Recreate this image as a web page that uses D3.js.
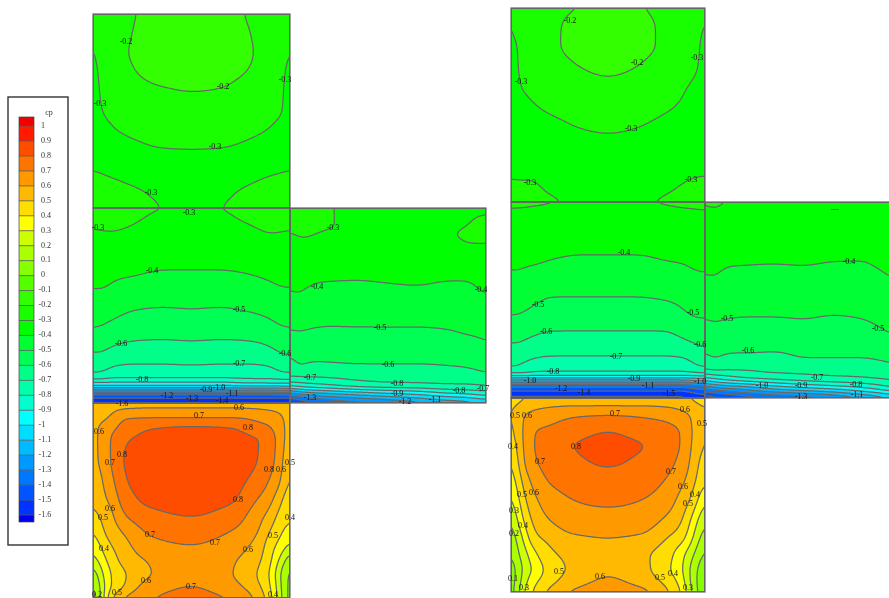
<!DOCTYPE html>
<html><head><meta charset="utf-8">
<script src="https://cdn.jsdelivr.net/npm/d3@7"></script>
<style>html,body{margin:0;padding:0;background:#fff;overflow:hidden}svg{display:block;filter:blur(.45px)}text{font-family:"Liberation Serif",serif}</style>
</head><body><svg id="c" width="889" height="598"></svg>
<script>
// contour levels and legend
const levels=[1,.9,.8,.7,.6,.5,.4,.3,.2,.1,0,-.1,-.2,-.3,-.4,-.5,-.6,-.7,-.8,-.9,-1,-1.1,-1.2,-1.3,-1.4,-1.5,-1.6];
const levelLabels=["1","0.9","0.8","0.7","0.6","0.5","0.4","0.3","0.2","0.1","0","-0.1","-0.2","-0.3","-0.4","-0.5","-0.6","-0.7","-0.8","-0.9","-1","-1.1","-1.2","-1.3","-1.4","-1.5","-1.6"];
const bandColors=["#f00000","#ff1a00","#ff4d00","#ff7300","#ff9900","#ffb900","#ffdd00","#ffff00","#ccff00","#aaff00","#88ff00","#55ff00","#33ff00","#1aff00","#00ff00","#00ff33","#00ff55","#00ff88","#00ffaa","#00ffcc","#00ffff","#00ddff","#00bbff","#0099ff","#0077ff","#0055ff","#0033ff","#0000ee"];

// sample coordinates (surface x 0..1, surface y in grid units from the top of each face)
const sideX=[0,.04,.1,.2,.35,.5,.65,.8,.9,.96,1];
const topY=[0,19.4,38.8,58.2,77.6,97,116.4,135.8,155.2,174.6,194];
const leftMidY=[0,17,37,62,82,101,117,133,145,156,167,177,184,190,195];
const leftArmY=[0,17,27,37,62,82,101,117,133,145,156,167,177,184,190,195];
const leftLowX=[0,.025,.056,.1,.16,.29,.5,.71,.84,.9,.95,.98,1];
const leftLowY=[0,5,15,23,37,57,77,97,112,127,142,157,172,183,195];
const rightMidY=[0,13,33,53,73,95,113,129,143,154,164,170,176,181,188,196];
const rightArmY=[0,8,33,53,73,95,115,129,143,156,166,176,183,190,196];
const rightLowX=[0,.026,.062,.113,.19,.32,.5,.675,.804,.88,.93,.966,1];
const rightLowY=[0,7,17,35,47,64,82,102,122,140,157,172,182,194];

// cp values. Top faces: one list per row. Others: one list per column.
const leftTopRows=[
[-.27,-.25,-.225,-.205,-.17,-.15,-.17,-.21,-.24,-.27,-.29],
[-.295,-.26,-.225,-.2,-.165,-.15,-.165,-.2,-.235,-.27,-.295],
[-.315,-.275,-.225,-.195,-.165,-.155,-.165,-.195,-.235,-.275,-.31],
[-.33,-.285,-.24,-.205,-.175,-.17,-.18,-.205,-.24,-.285,-.33],
[-.34,-.29,-.26,-.235,-.21,-.2,-.205,-.235,-.26,-.29,-.34],
[-.345,-.3,-.28,-.26,-.24,-.235,-.24,-.26,-.275,-.295,-.34],
[-.35,-.33,-.305,-.285,-.27,-.265,-.27,-.285,-.305,-.33,-.35],
[-.34,-.34,-.335,-.315,-.303,-.301,-.303,-.315,-.335,-.34,-.33],
[-.3,-.305,-.31,-.315,-.32,-.325,-.32,-.315,-.31,-.305,-.3],
[-.28,-.285,-.29,-.297,-.31,-.325,-.31,-.295,-.285,-.28,-.28],
[-.27,-.275,-.28,-.285,-.3,-.32,-.3,-.285,-.28,-.275,-.27]];
const leftMidColumns=[
[-.26,-.295,-.33,-.37,-.405,-.45,-.49,-.555,-.605,-.655,-.72,-.98,-1.3,-1.5,-1.64],
[-.265,-.29,-.325,-.37,-.4,-.45,-.495,-.56,-.6,-.655,-.72,-.98,-1.3,-1.5,-1.64],
[-.27,-.29,-.325,-.38,-.415,-.465,-.52,-.58,-.63,-.69,-.76,-.98,-1.3,-1.5,-1.64],
[-.28,-.3,-.335,-.385,-.435,-.495,-.545,-.6,-.65,-.7,-.76,-.98,-1.3,-1.5,-1.64],
[-.3,-.32,-.35,-.4,-.45,-.505,-.555,-.605,-.65,-.7,-.76,-.98,-1.3,-1.5,-1.64],
[-.31,-.32,-.36,-.4,-.455,-.5,-.55,-.6,-.65,-.695,-.76,-.98,-1.3,-1.5,-1.64],
[-.3,-.315,-.35,-.4,-.45,-.505,-.555,-.605,-.65,-.7,-.76,-.98,-1.3,-1.5,-1.64],
[-.28,-.3,-.345,-.39,-.44,-.49,-.545,-.6,-.65,-.7,-.75,-.95,-1.3,-1.5,-1.64],
[-.27,-.285,-.325,-.375,-.42,-.47,-.52,-.58,-.625,-.69,-.75,-.95,-1.3,-1.5,-1.64],
[-.26,-.285,-.33,-.37,-.405,-.45,-.495,-.56,-.595,-.655,-.72,-.95,-1.28,-1.5,-1.64],
[-.26,-.29,-.335,-.37,-.405,-.445,-.49,-.55,-.59,-.65,-.72,-.95,-1.28,-1.5,-1.64]];
const leftArmColumns=[
[-.29,-.295,-.31,-.33,-.37,-.405,-.445,-.49,-.55,-.6,-.65,-.69,-.88,-1.18,-1.42,-1.55],
[-.27,-.28,-.295,-.31,-.36,-.39,-.43,-.475,-.53,-.565,-.585,-.68,-.85,-1.12,-1.36,-1.5],
[-.28,-.29,-.298,-.315,-.37,-.41,-.455,-.49,-.54,-.57,-.61,-.68,-.83,-1.08,-1.3,-1.45],
[-.295,-.295,-.31,-.325,-.375,-.42,-.465,-.497,-.54,-.58,-.605,-.675,-.8,-1.05,-1.25,-1.4],
[-.32,-.325,-.33,-.34,-.38,-.42,-.46,-.495,-.54,-.575,-.6,-.66,-.75,-1,-1.2,-1.35],
[-.32,-.325,-.335,-.345,-.375,-.415,-.46,-.495,-.535,-.57,-.6,-.65,-.73,-.96,-1.15,-1.32],
[-.32,-.325,-.33,-.34,-.37,-.41,-.455,-.495,-.535,-.57,-.6,-.65,-.72,-.93,-1.1,-1.25],
[-.31,-.31,-.31,-.33,-.375,-.42,-.455,-.49,-.53,-.565,-.595,-.64,-.71,-.87,-1.04,-1.18],
[-.31,-.302,-.29,-.305,-.38,-.415,-.45,-.48,-.515,-.555,-.59,-.625,-.71,-.85,-1.02,-1.16],
[-.31,-.29,-.28,-.305,-.385,-.4,-.44,-.475,-.51,-.545,-.585,-.615,-.7,-.83,-.98,-1.12],
[-.31,-.285,-.28,-.305,-.39,-.395,-.43,-.465,-.497,-.535,-.57,-.61,-.69,-.82,-.96,-1.12]];
const leftLowColumns=[
[.49,.5,.54,.56,.56,.55,.53,.505,.445,.39,.33,.24,.09,.05,.02],
[.5,.52,.585,.6,.6,.6,.56,.545,.505,.44,.37,.3,.21,.15,.11],
[.5,.53,.58,.62,.645,.64,.615,.58,.53,.51,.45,.38,.32,.3,.32],
[.52,.57,.63,.67,.72,.72,.685,.635,.59,.56,.51,.46,.42,.42,.52],
[.53,.59,.7,.73,.79,.81,.795,.755,.7,.62,.57,.54,.49,.5,.62],
[.55,.6,.7,.79,.825,.85,.84,.82,.775,.72,.67,.61,.595,.65,.7],
[.55,.6,.7,.805,.85,.875,.87,.84,.805,.75,.7,.66,.67,.7,.73],
[.55,.6,.7,.795,.83,.84,.83,.81,.755,.7,.65,.61,.6,.63,.7],
[.54,.59,.68,.72,.805,.8,.765,.69,.635,.605,.56,.52,.49,.515,.57],
[.53,.58,.66,.7,.745,.735,.69,.63,.57,.5,.44,.42,.395,.41,.44],
[.52,.57,.62,.64,.66,.65,.62,.52,.46,.42,.37,.28,.2,.22,.24],
[.51,.56,.58,.58,.57,.54,.51,.46,.44,.39,.32,.19,.11,.1,.1],
[.5,.53,.55,.55,.53,.505,.47,.43,.405,.34,.25,.1,.05,.04,.03]];
const rightTopRows=[
[-.295,-.27,-.245,-.22,-.2,-.17,-.195,-.22,-.25,-.27,-.295],
[-.315,-.27,-.24,-.215,-.18,-.165,-.18,-.215,-.25,-.285,-.31],
[-.325,-.295,-.25,-.215,-.18,-.165,-.18,-.215,-.25,-.29,-.325],
[-.335,-.295,-.265,-.235,-.2,-.185,-.2,-.235,-.26,-.295,-.335],
[-.34,-.305,-.275,-.25,-.225,-.215,-.225,-.25,-.295,-.32,-.345],
[-.345,-.335,-.31,-.28,-.255,-.25,-.255,-.285,-.315,-.335,-.345],
[-.35,-.345,-.335,-.32,-.295,-.285,-.295,-.32,-.335,-.345,-.35],
[-.34,-.34,-.34,-.335,-.32,-.315,-.32,-.335,-.34,-.34,-.335],
[-.32,-.33,-.33,-.335,-.335,-.33,-.335,-.335,-.33,-.325,-.32],
[-.295,-.295,-.295,-.315,-.33,-.335,-.33,-.315,-.298,-.29,-.29],
[-.275,-.275,-.28,-.29,-.31,-.325,-.31,-.29,-.28,-.275,-.28]];
const rightMidColumns=[
[-.28,-.32,-.355,-.38,-.41,-.455,-.5,-.55,-.61,-.65,-.695,-.78,-1,-1.25,-1.48,-1.64],
[-.28,-.32,-.355,-.38,-.405,-.45,-.5,-.56,-.605,-.65,-.7,-.76,-1,-1.25,-1.48,-1.64],
[-.285,-.325,-.36,-.375,-.425,-.47,-.525,-.58,-.63,-.68,-.75,-.79,-1,-1.25,-1.48,-1.64],
[-.295,-.33,-.365,-.39,-.44,-.5,-.55,-.6,-.64,-.7,-.76,-.8,-1,-1.25,-1.48,-1.64],
[-.31,-.335,-.37,-.4,-.45,-.5,-.555,-.6,-.65,-.7,-.76,-.8,-1,-1.25,-1.48,-1.64],
[-.31,-.335,-.37,-.4,-.45,-.5,-.555,-.6,-.65,-.7,-.76,-.8,-1,-1.25,-1.48,-1.64],
[-.31,-.335,-.37,-.4,-.45,-.5,-.555,-.6,-.65,-.7,-.76,-.8,-1,-1.25,-1.48,-1.64],
[-.29,-.33,-.365,-.39,-.43,-.49,-.545,-.6,-.65,-.7,-.76,-.8,-1,-1.25,-1.48,-1.64],
[-.28,-.32,-.36,-.385,-.42,-.47,-.51,-.565,-.625,-.69,-.75,-.8,-1,-1.25,-1.48,-1.64],
[-.28,-.315,-.355,-.375,-.405,-.445,-.49,-.55,-.6,-.65,-.7,-.78,-.98,-1.2,-1.42,-1.56],
[-.28,-.31,-.35,-.375,-.405,-.44,-.49,-.54,-.59,-.64,-.69,-.76,-.98,-1.2,-1.42,-1.56]];
const rightArmColumns=[
[-.3,-.31,-.35,-.375,-.405,-.44,-.5,-.54,-.59,-.64,-.7,-.92,-1.18,-1.42,-1.58],
[-.29,-.3,-.35,-.38,-.395,-.45,-.485,-.52,-.545,-.59,-.66,-.88,-1.12,-1.38,-1.55],
[-.3,-.31,-.35,-.385,-.41,-.455,-.495,-.53,-.57,-.62,-.68,-.85,-1.08,-1.34,-1.53],
[-.31,-.32,-.355,-.385,-.415,-.46,-.5,-.535,-.58,-.615,-.68,-.8,-1.05,-1.28,-1.48],
[-.32,-.33,-.36,-.385,-.42,-.46,-.5,-.54,-.58,-.62,-.66,-.77,-.97,-1.2,-1.42],
[-.32,-.33,-.36,-.385,-.415,-.46,-.495,-.535,-.58,-.6,-.655,-.74,-.92,-1.15,-1.38],
[-.32,-.33,-.36,-.39,-.42,-.45,-.505,-.54,-.575,-.6,-.65,-.72,-.88,-1.1,-1.32],
[-.32,-.33,-.36,-.39,-.425,-.46,-.495,-.54,-.575,-.6,-.65,-.705,-.84,-1.02,-1.22],
[-.33,-.33,-.355,-.375,-.405,-.44,-.47,-.505,-.55,-.59,-.63,-.69,-.79,-.96,-1.16],
[-.33,-.33,-.35,-.37,-.395,-.43,-.46,-.49,-.54,-.58,-.62,-.68,-.76,-.92,-1.1],
[-.33,-.33,-.35,-.37,-.395,-.43,-.46,-.49,-.54,-.58,-.62,-.68,-.76,-.92,-1.1]];
const rightLowColumns=[
[.45,.47,.47,.43,.39,.36,.32,.25,.17,.1,.05,.02,.01,.01],
[.47,.5,.53,.53,.505,.455,.405,.34,.27,.21,.17,.1,.11,.13],
[.49,.52,.6,.6,.6,.59,.53,.47,.4,.3,.24,.22,.24,.29],
[.5,.56,.63,.7,.7,.685,.63,.57,.52,.47,.36,.31,.36,.41],
[.51,.58,.655,.72,.74,.73,.705,.65,.595,.52,.47,.43,.45,.52],
[.52,.59,.69,.755,.8,.775,.74,.7,.655,.585,.53,.52,.55,.62],
[.52,.59,.7,.805,.845,.815,.76,.72,.66,.6,.57,.585,.61,.65],
[.52,.59,.69,.755,.805,.775,.74,.7,.65,.585,.52,.53,.56,.63],
[.51,.58,.67,.73,.74,.73,.695,.65,.58,.5,.44,.42,.46,.52],
[.5,.56,.63,.7,.7,.67,.625,.56,.51,.44,.33,.32,.35,.4],
[.49,.52,.6,.6,.59,.58,.55,.49,.39,.32,.23,.17,.17,.2],
[.48,.5,.53,.55,.55,.51,.47,.39,.29,.22,.14,.09,.08,.09],
[.47,.49,.51,.48,.46,.42,.395,.29,.2,.12,.06,0,-.02,-.02]];

// annotation text on the contour lines
const contourLabels=[
["-0.2",126,42],["-0.2",223,87],["-0.3",285,80],["-0.3",100,104],["-0.3",215,147],["-0.3",151,193],["-0.3",189,213],["-0.3",98,228],["-0.3",333,228],["-0.4",152,271],["-0.4",317,287],["-0.4",481,290],["-0.5",239,310],["-0.5",380,328],["-0.6",121,344],["-0.6",285,354],["-0.6",388,365],["-0.7",239,364],["-0.7",310,378],["-0.8",142,380],["-0.9",206,390],["-1.0",219,388],["-1.1",232,394],["-1.2",167,396],["-1.3",192,399],["-1.4",222,401],["-1.6",122,404],["-1.3",310,398],["-0.9",397,394],["-0.8",397,384],["-1.2",405,402],["-1.1",435,400],["-0.8",459,391],["-0.7",483,389],
["0.6",239,408],["0.7",199,416],["0.8",248,428],["0.6",99,432],["0.8",122,455],["0.7",110,463],["0.8",238,500],["0.8",269,470],["0.6",281,470],["0.5",290,463],["0.6",110,509],["0.5",103,518],["0.4",290,518],["0.5",273,536],["0.4",104,549],["0.7",150,535],["0.7",215,543],["0.6",248,550],["0.6",146,581],["0.7",191,587],["0.5",117,593],["0.2",97,595],["0.4",273,595],
["-0.2",570,21],["-0.2",637,63],["-0.3",521,82],["-0.3",697,58],["-0.3",631,129],["-0.3",530,183],["-0.3",691,180],["—",835,209],["-0.4",624,253],["-0.4",849,262],["-0.5",538,305],["-0.5",693,313],["-0.5",727,319],["-0.5",878,329],["-0.6",546,332],["-0.6",700,345],["-0.6",748,351],["-0.7",616,357],["-0.7",817,378],["-0.8",553,372],["-0.9",634,379],["-1.1",648,386],["-1.0",530,381],["-1.2",561,389],["-1.4",584,393],["-1.5",669,394],["-1.0",700,382],["-1.0",762,386],["-0.9",801,386],["-0.8",856,385],["-1.3",801,397],["-1.1",857,395],
["0.6",685,410],["0.7",615,414],["0.6",527,416],["0.5",515,416],["0.5",702,424],["0.8",576,447],["0.4",513,447],["0.7",540,462],["0.7",671,472],["0.6",683,487],["0.6",534,493],["0.5",522,495],["0.4",695,495],["0.5",688,504],["0.3",514,511],["0.4",523,526],["0.2",514,534],["0.5",559,572],["0.6",600,577],["0.4",673,574],["0.5",660,578],["0.1",513,579],["0.3",524,588],["0.3",688,588]];

const svg=d3.select("#c");
const colorOf=d3.scaleThreshold().domain(levels.slice().reverse()).range(bandColors.slice().reverse());
const ascending=levels.slice().reverse();

function monotone(xs,ys){
  const n=xs.length,h=d3.pairs(xs,(a,b)=>b-a),s=d3.range(n-1).map(i=>(ys[i+1]-ys[i])/h[i]);
  const m=d3.range(n).map(i=>{
    if(i===0)return s[0]; if(i===n-1)return s[n-2];
    if(s[i-1]*s[i]<=0)return 0;
    const w1=2*h[i]+h[i-1],w2=h[i]+2*h[i-1];
    return (w1+w2)/(w1/s[i-1]+w2/s[i]);
  });
  const bis=d3.bisector(d=>d).right;
  return x=>{
    const i=Math.min(n-2,Math.max(0,bis(xs,x)-1));
    const t=(x-xs[i])/h[i],t2=t*t,t3=t2*t;
    return (2*t3-3*t2+1)*ys[i]+(t3-2*t2+t)*h[i]*m[i]+(-2*t3+3*t2)*ys[i+1]+(t3-t2)*h[i]*m[i+1];
  };
}
let clipId=0;
function face(px0,px1,py0,py1,xs,ys,rows,rx,ry){
  const x=d3.scaleLinear().domain([0,1]).range([px0,px1]);
  const y=d3.scaleLinear().domain([0,d3.max(ys)]).range([py0,py1]);
  const w=Math.round(px1-px0),h=Math.round(py1-py0);
  const rowFns=rows.map(r=>monotone(xs,r));
  const grid=new Float64Array(w*h);
  for(let i=0;i<w;i++){
    const u=x.invert(px0+i+.5);
    const f=monotone(ys,rowFns.map(fn=>fn(u)));
    for(let j=0;j<h;j++)grid[j*w+i]=f(y.invert(py0+j+.5));
  }
  d3.blur2({data:grid,width:w,height:h},rx,ry);
  const id="f"+(clipId++);
  svg.append("clipPath").attr("id",id).append("rect").attr("x",px0).attr("y",py0).attr("width",w).attr("height",h);
  const g=svg.append("g").attr("clip-path",`url(#${id})`);
  const inner=g.append("g").attr("transform",`translate(${px0},${py0})`);
  inner.append("rect").attr("width",w).attr("height",h).attr("fill",colorOf(-9));
  const path=d3.geoPath();
  const cs=d3.contours().size([w,h]).thresholds(ascending)(grid).filter(c=>c.coordinates.length);
  inner.selectAll("path.fill").data(cs).join("path").attr("class","fill").attr("d",path).attr("fill",d=>colorOf(d.value));
  inner.selectAll("path.line").data(cs).join("path").attr("class","line").attr("d",path).attr("fill","none").attr("stroke","#686868").attr("stroke-width",1.25);
}
function frame(px0,px1,py0,py1){
  svg.append("rect").attr("x",px0).attr("y",py0).attr("width",px1-px0).attr("height",py1-py0)
    .attr("fill","none").attr("stroke","#666").attr("stroke-width",1.2);
}
const faces=[
 [93,290,14,208,sideX,topY,leftTopRows,4,4],
 [93,290,208,403,sideX,leftMidY,d3.transpose(leftMidColumns),5,1.5],
 [290,486,208,403,sideX,leftArmY,d3.transpose(leftArmColumns),5,1.5],
 [93,290,403,598,leftLowX,leftLowY,d3.transpose(leftLowColumns),4,3],
 [511,705,8,202,sideX,topY,rightTopRows,4,4],
 [511,705,202,398,sideX,rightMidY,d3.transpose(rightMidColumns),5,1.5],
 [705,902,202,398,sideX,rightArmY,d3.transpose(rightArmColumns),5,1.5],
 [511,705,398,592,rightLowX,rightLowY,d3.transpose(rightLowColumns),4,3]
];
faces.forEach(f=>face(...f));
faces.forEach(f=>frame(f[0],f[1],f[2],f[3]));

svg.append("g").selectAll("text").data(contourLabels).join("text")
  .attr("x",d=>d[1]).attr("y",d=>d[2]).attr("text-anchor","middle").attr("dominant-baseline","middle")
  .attr("font-size",8).attr("fill","#111").text(d=>d[0]);

// legend
const lg=svg.append("g");
lg.append("rect").attr("x",8).attr("y",97).attr("width",60).attr("height",448).attr("fill","#fff").attr("stroke","#333").attr("stroke-width",1.4);
const ly=d3.scaleLinear().domain([1,-1.6]).range([126,515]);
const edges=[ly.invert(117),...levels,ly.invert(522)];
lg.selectAll("rect.sw").data(d3.pairs(edges)).join("rect").attr("class","sw")
  .attr("x",19).attr("width",15).attr("y",d=>ly(d[0])).attr("height",d=>ly(d[1])-ly(d[0]))
  .attr("fill",(d,i)=>bandColors[i]);
lg.selectAll("line").data(levels).join("line").attr("x1",19).attr("x2",34)
  .attr("y1",d=>ly(d)).attr("y2",d=>ly(d)).attr("stroke","#555").attr("stroke-opacity",.8);
lg.append("rect").attr("x",19).attr("y",117).attr("width",15).attr("height",405).attr("fill","none").attr("stroke","#444").attr("stroke-width",.7);
lg.selectAll("text.t").data(levels).join("text").attr("class","t").attr("x",d=>d<0?38.5:41).attr("y",d=>ly(d))
  .attr("dominant-baseline","middle").attr("font-size",8).attr("fill","#333").text((d,i)=>levelLabels[i]);
lg.append("text").attr("x",49).attr("y",115).attr("text-anchor","middle").attr("font-size",8).attr("fill","#333").text("cp");
</script></body></html>
